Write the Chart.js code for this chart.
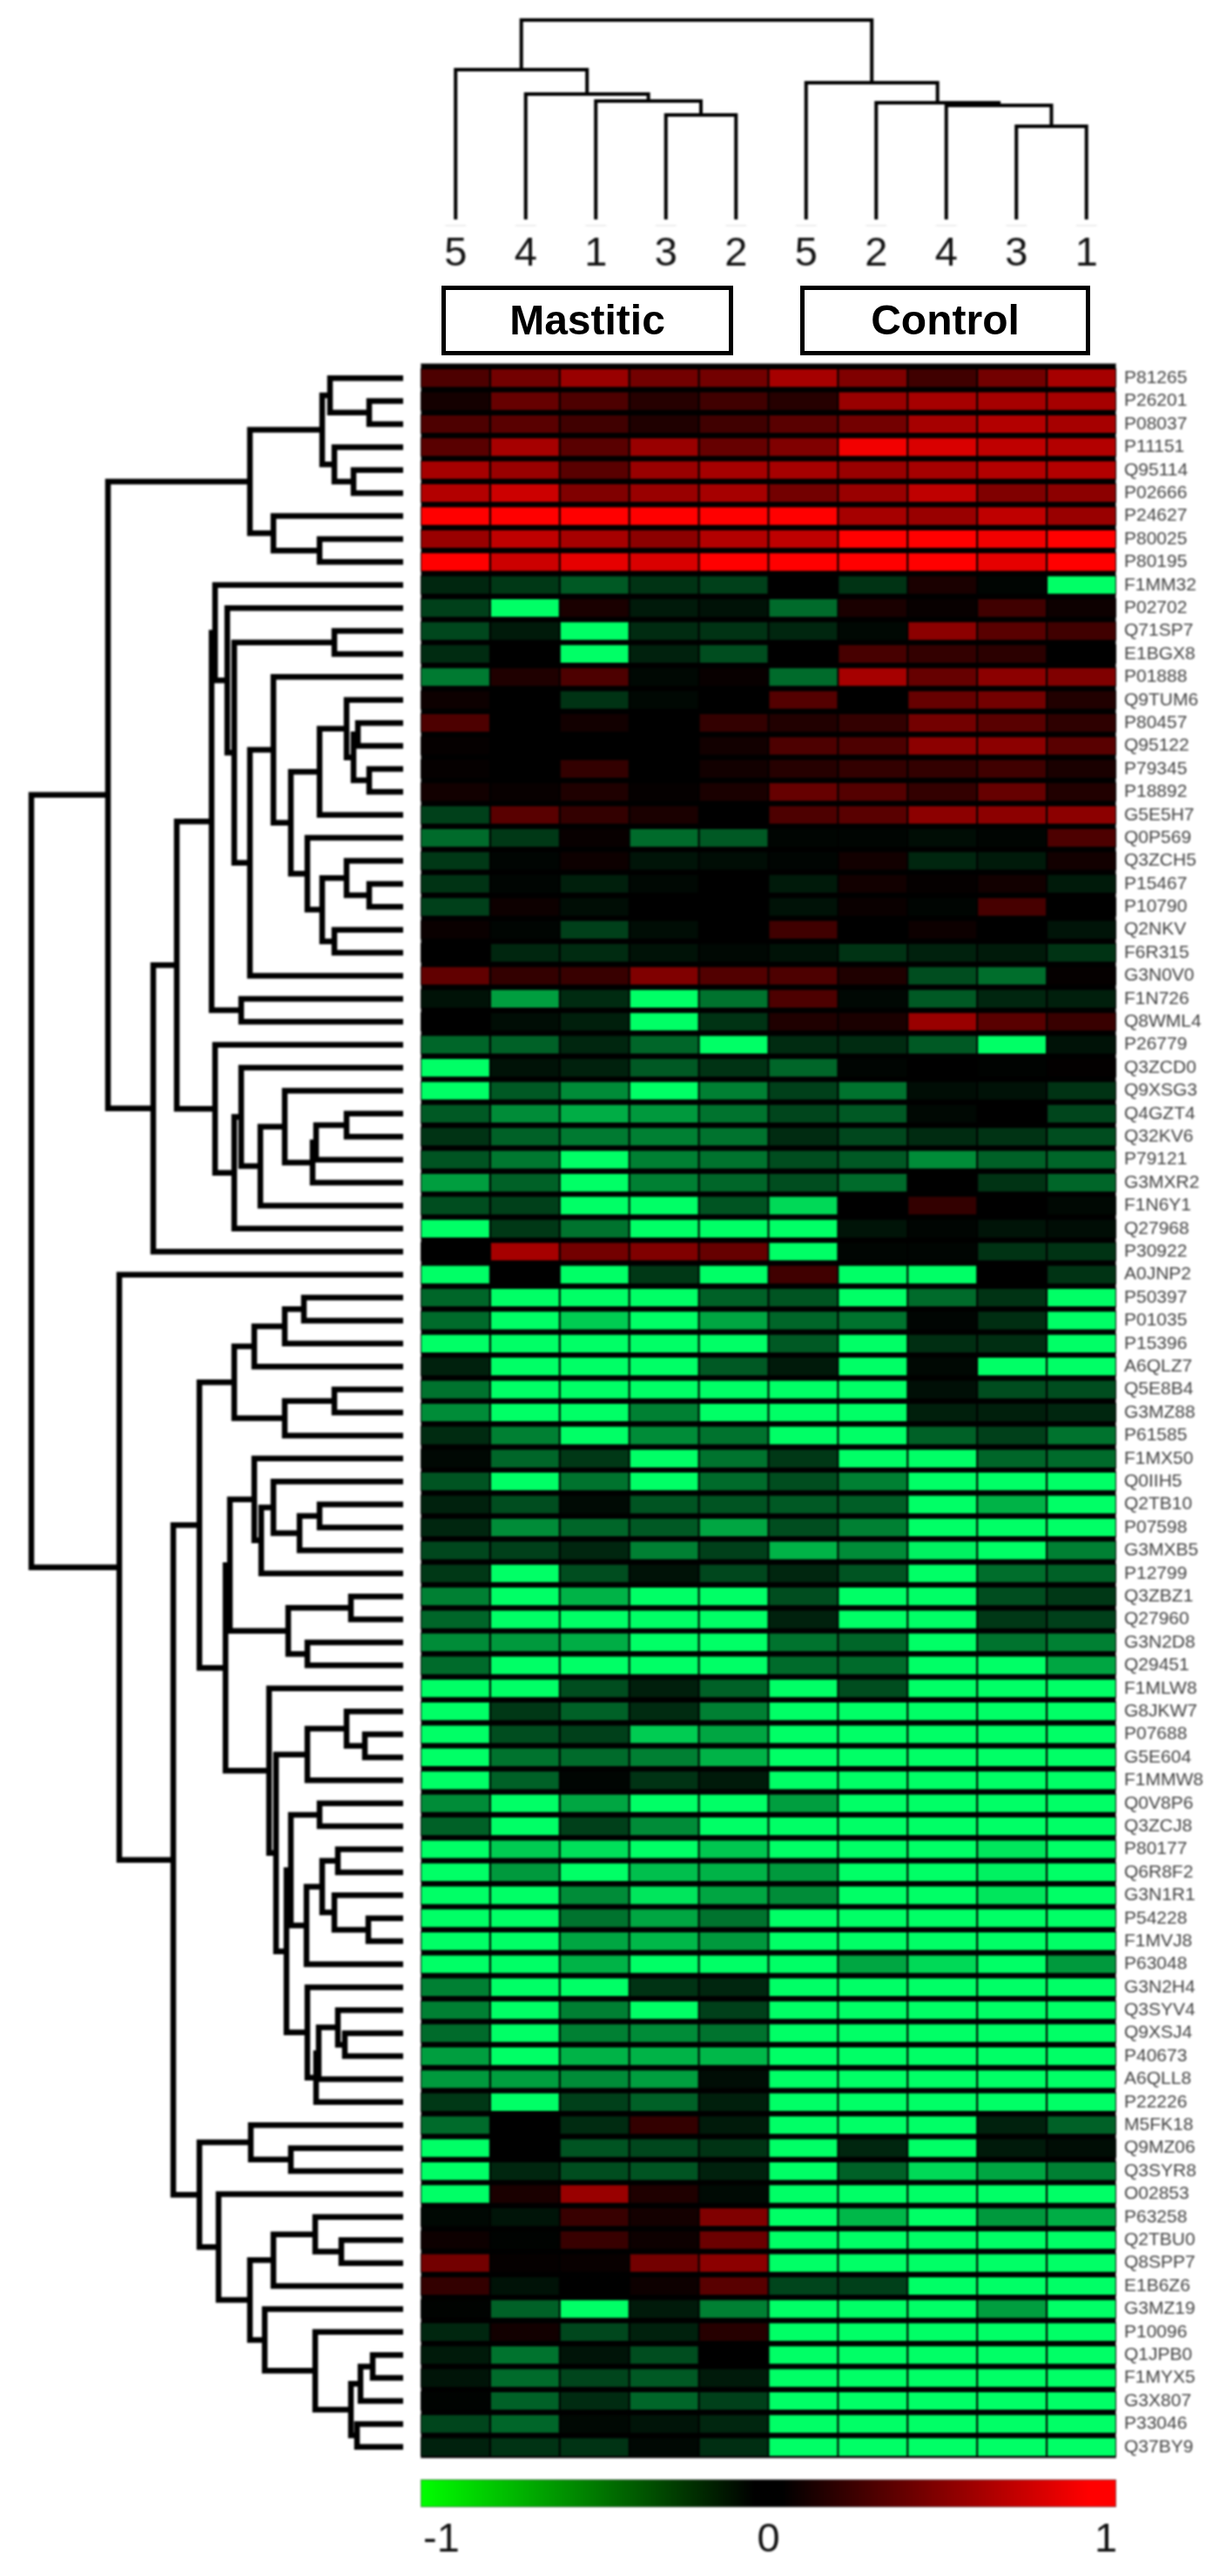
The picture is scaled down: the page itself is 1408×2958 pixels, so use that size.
<!DOCTYPE html>
<html>
<head>
<meta charset="utf-8">
<title>Mastitic vs Control heatmap</title>
<script src="https://cdn.jsdelivr.net/npm/chart.js@4"></script>
<style>
  html, body { margin: 0; padding: 0; background: #fff; }
  #page { position: relative; width: 1408px; height: 2958px; overflow: hidden; font-family: "Liberation Sans", Arial, sans-serif; }
  canvas { position: absolute; display: block; filter: blur(0.8px); }
  #topTree { left: 483px; top: 0; }
  #leftTree { left: 0; top: 421px; }
  #heat { left: 483px; top: 417px; }
  #scaleBar { left: 483px; top: 2847px; }
  .group { position: absolute; top: 328px; height: 70px; border: 5px solid #000; background: #fff; text-align: center;
           font-weight: bold; font-size: 48px; line-height: 70px; color: #000; filter: blur(0.6px); }
</style>
</head>
<body>
<div id="page">
  <canvas id="topTree" width="805" height="320"></canvas>
  <div class="group" style="left:507px;width:325px">Mastitic</div>
  <div class="group" style="left:919px;width:323px">Control</div>
  <canvas id="leftTree" width="463" height="2402"></canvas>
  <canvas id="heat" width="926" height="2408"></canvas>
  <canvas id="scaleBar" width="799" height="96"></canvas>
</div>
<script>
// --- 1. DATA ---
const columnLabels = ['5', '4', '1', '3', '2', '5', '2', '4', '3', '1'];
const columnLeaves = [1, 2, 3, 4, 5, 6, 7, 8, 9, 10];
const scaleTicks = [-0.94, 0, 0.97];
const scaleStops = [[0, '#00ff00'], [0.48, '#000000'], [0.52, '#000000'], [0.96, '#ff0000'], [1, '#ff0000']];

const rowLabels = [
  'P81265','P26201','P08037','P11151','Q95114','P02666','P24627','P80025','P80195','F1MM32',
  'P02702','Q71SP7','E1BGX8','P01888','Q9TUM6','P80457','Q95122','P79345','P18892','G5E5H7',
  'Q0P569','Q3ZCH5','P15467','P10790','Q2NKV','F6R315','G3N0V0','F1N726','Q8WML4','P26779',
  'Q3ZCD0','Q9XSG3','Q4GZT4','Q32KV6','P79121','G3MXR2','F1N6Y1','Q27968','P30922','A0JNP2',
  'P50397','P01035','P15396','A6QLZ7','Q5E8B4','G3MZ88','P61585','F1MX50','Q0IIH5','Q2TB10',
  'P07598','G3MXB5','P12799','Q3ZBZ1','Q27960','G3N2D8','Q29451','F1MLW8','G8JKW7','P07688',
  'G5E604','F1MMW8','Q0V8P6','Q3ZCJ8','P80177','Q6R8F2','G3N1R1','P54228','F1MVJ8','P63048',
  'G3N2H4','Q3SYV4','Q9XSJ4','P40673','A6QLL8','P22226','M5FK18','Q9MZ06','Q3SYR8','O02853',
  'P63258','Q2TBU0','Q8SPP7','E1B6Z6','G3MZ19','P10096','Q1JPB0','F1MYX5','G3X807','P33046','Q37BY9'
];

// one line per protein, columns in picture order
const cellValues = [
  [.3,.45,.6,.45,.45,.65,.5,.25,.45,.65],
  [.08,.4,.3,.15,.25,.15,.6,.65,.65,.65],
  [.3,.35,.25,.12,.25,.35,.45,.65,.7,.65],
  [.35,.65,.35,.6,.4,.5,.95,.85,.75,.7],
  [.65,.6,.35,.6,.65,.65,.6,.65,.7,.7],
  [.7,.8,.5,.6,.65,.45,.6,.75,.5,.55],
  [1,1,1,1,1,1,.65,.6,.75,.6],
  [.6,.75,.65,.55,.7,.75,1,1,.95,1],
  [1,.8,.9,.85,1,1,1,1,.9,1],
  [-.15,-.22,-.35,-.2,-.25,0,-.2,.1,-.02,-1],
  [-.25,-1,.1,-.1,-.07,-.42,.1,.03,.25,.05],
  [-.28,-.1,-1,-.17,-.2,-.15,-.03,.55,.35,.25],
  [-.17,0,-1,-.13,-.3,0,.28,.2,.17,0],
  [-.48,.12,.3,-.03,.03,-.42,.65,.4,.55,.5],
  [.05,0,-.2,-.03,0,.33,0,.4,.45,.13],
  [.3,0,.07,0,.2,.13,.2,.45,.35,.18],
  [.02,0,0,0,.07,.3,.3,.55,.55,.35],
  [.02,0,.2,0,.07,.15,.2,.2,.25,.1],
  [.07,.03,.12,.02,.1,.4,.33,.2,.4,.13],
  [-.25,.35,.2,.1,0,.3,.35,.55,.55,.55],
  [-.42,-.22,.03,-.42,-.35,-.02,-.02,-.05,-.02,.3],
  [-.22,-.02,.05,-.08,-.05,-.02,.07,-.15,-.1,.07],
  [-.2,-.02,-.12,-.03,0,-.1,.07,.02,.07,-.1],
  [-.25,.05,-.05,0,0,-.07,.04,-.02,.28,0],
  [.04,-.02,-.25,-.05,0,.25,0,.05,0,-.08],
  [0,-.15,-.17,-.07,-.03,-.07,-.2,-.13,-.1,-.2],
  [.38,.2,.22,.5,.32,.3,.12,-.3,-.43,.02],
  [-.07,-.62,-.17,-1,-.45,.3,-.03,-.35,-.15,-.12],
  [0,-.05,-.12,-1,-.2,.12,.1,.6,.35,.22],
  [-.4,-.38,-.15,-.4,-1,-.17,-.17,-.35,-1,-.07],
  [-1,-.07,-.13,-.35,-.2,-.4,-.02,0,-.01,.01],
  [-1,-.35,-.55,-1,-.5,-.25,-.45,-.05,-.07,-.2],
  [-.35,-.55,-.68,-.6,-.45,-.27,-.35,-.03,0,-.27],
  [-.2,-.38,-.48,-.5,-.45,-.17,-.28,-.17,-.2,-.3],
  [-.33,-.47,-1,-.5,-.45,-.3,-.35,-.55,-.38,-.4],
  [-.62,-.38,-1,-.5,-.4,-.3,-.42,0,-.2,-.4],
  [-.3,-.25,-1,-1,-.33,-.85,0,.2,0,-.03],
  [-1,-.22,-.45,-1,-1,-1,-.08,-.02,-.08,-.05],
  [0,.65,.45,.5,.4,-1,-.02,-.02,-.2,-.2],
  [-1,0,-1,-.22,-1,.25,-1,-1,0,-.2],
  [-.4,-1,-1,-1,-.38,-.33,-1,-.42,-.2,-1],
  [-.42,-1,-.8,-1,-.65,-.4,-.45,-.02,-.18,-1],
  [-1,-1,-1,-1,-1,-.35,-1,-.18,-.18,-1],
  [-.13,-1,-1,-1,-.35,-.1,-1,-.03,-1,-1],
  [-.45,-1,-1,-1,-1,-1,-1,-.06,-.3,-.3],
  [-.55,-1,-1,-.5,-1,-1,-1,-.12,-.12,-.15],
  [-.17,-.5,-1,-.55,-.45,-1,-1,-.38,-.25,-.45],
  [-.03,-.4,-.22,-1,-.45,-.22,-1,-1,-.4,-.42],
  [-.33,-1,-.45,-1,-.42,-.3,-.5,-1,-1,-1],
  [-.13,-.3,-.04,-.33,-.33,-.35,-.37,-1,-.7,-1],
  [-.15,-.55,-.4,-.35,-.65,-.3,-.5,-1,-1,-1],
  [-.28,-.25,-.15,-.5,-.25,-.7,-.55,-.95,-1,-.5],
  [-.22,-1,-.3,-.07,-.28,-.15,-.33,-1,-.43,-.38],
  [-.5,-1,-.7,-1,-1,-.3,-1,-1,-.3,-.22],
  [-.4,-1,-1,-1,-1,-.13,-1,-1,-.22,-.25],
  [-.55,-.6,-.68,-1,-1,-.45,-.4,-1,-.45,-.5],
  [-.42,-1,-1,-1,-1,-.42,-.42,-1,-1,-.65],
  [-1,-1,-.3,-.12,-.38,-1,-.3,-1,-1,-1],
  [-1,-.22,-.38,-.17,-.5,-1,-1,-1,-1,-1],
  [-1,-.3,-.25,-.8,-.65,-1,-1,-1,-1,-1],
  [-1,-.45,-.42,-.5,-.7,-1,-1,-1,-1,-1],
  [-1,-.38,-.02,-.2,-.1,-1,-1,-1,-1,-1],
  [-.55,-1,-.65,-1,-1,-.62,-1,-1,-1,-1],
  [-.38,-1,-.25,-.55,-1,-1,-1,-1,-1,-1],
  [-1,-.8,-.88,-1,-.78,-1,-1,-1,-.9,-1],
  [-1,-.6,-1,-.75,-.7,-.6,-1,-1,-.95,-1],
  [-1,-1,-.55,-.9,-.65,-.55,-1,-1,-.9,-1],
  [-1,-1,-.45,-.65,-.45,-1,-1,-1,-1,-1],
  [-1,-1,-.65,-.72,-.6,-1,-1,-1,-1,-1],
  [-1,-1,-.7,-1,-1,-1,-.65,-.85,-1,-.6],
  [-.5,-1,-1,-.2,-.15,-1,-1,-1,-1,-1],
  [-.5,-1,-.5,-1,-.25,-1,-1,-1,-1,-1],
  [-.42,-1,-.5,-.55,-.45,-1,-1,-1,-1,-1],
  [-.62,-1,-.7,-.7,-.72,-1,-1,-1,-1,-1],
  [-.6,-.62,-.55,-.62,-.05,-1,-1,-1,-1,-1],
  [-.22,-1,-.25,-.38,-.12,-1,-1,-1,-1,-1],
  [-.42,0,-.17,.2,-.1,-1,-1,-1,-.13,-.38],
  [-1,0,-.33,-.28,-.2,-1,-.15,-1,-.1,-.05],
  [-1,-.15,-.3,-.33,-.13,-1,-.38,-.85,-.65,-.5],
  [-1,.1,.6,.12,-.04,-1,-1,-1,-1,-1],
  [-.03,-.08,.22,.08,.5,-1,-.72,-1,-.6,-.68],
  [.05,-.01,.22,.05,.42,-1,-1,-1,-1,-1],
  [.45,.02,.03,.45,.55,-1,-1,-1,-1,-1],
  [.2,-.07,0,.05,.35,-.27,-.25,-1,-1,-1],
  [-.01,-.38,-1,-.1,-.5,-1,-1,-1,-.62,-1],
  [-.15,.07,-.28,-.13,.15,-1,-1,-1,-1,-1],
  [-.1,-.45,-.08,-.3,0,-1,-1,-1,-1,-1],
  [-.08,-.42,-.27,-.35,-.1,-1,-1,-1,-1,-1],
  [-.01,-.38,-.17,-.4,-.25,-1,-1,-1,-1,-1],
  [-.27,-.4,-.03,-.08,-.15,-1,-1,-1,-1,-1],
  [-.13,-.2,-.2,-.03,-.18,-1,-1,-1,-1,-1]
];

// Dendrograms: [merge height, child, child], a plain number child is a leaf
const mastiticTree = [172, 1, [144, 2, [136, 3, [120, 4, 5]]]];
const controlTree = [157, 6, [134, 7, [131, 8, [107, 9, 10]]]];
const sampleTree = [229, mastiticTree, controlTree];

const highGroup = [176,
  [93, [84, 0, [39, 1, 2]], [79, 3, [57, 4, 5]]],
  [149, 6, [96, 7, 8]]];
const middleCore = [149, 13, [129,
  [96, [65, 14, [57, [52, 15, 16], [39, 17, 18]]], 19],
  [110, 20, [93, [65, 21, [39, 22, 23]], [79, 24, 25]]]]];
const middleGroup = [220,
  [216, 9, [202, 10, [194, [79, 11, 12], [176, middleCore, 26]]]],
  [186, 27, 28]];
const mixedGroup = [216, 29, [194, [186, 30, [164, [136, 31, [104, [100, [65, 32, 33], 34], 35]], 36]], 37]];
const upperBranch = [339, highGroup, [287, [260, middleGroup, mixedGroup], 38]];

const lowA = [194, [171, [136, [114, 40, 41], 42], 43], [136, [79, 44, 45], 46]];
const lowB = [171, 47, [163, [149, 48, [119, [96, 49, 50], 51]], 52]];
const lowC = [132, [60, 53, 54], [110, 55, 56]];
const lowD = [129, [96, 62, 63], [111, [93, [75, 64, 65], [79, 66, [40, 67, 68]]], 69]];
const lowE = [110, 70, [100, [97, [75, 71, [67, 72, 73]], 74], 75]];
const lowF = [154, 57, [146, [110, [65, 58, [44, 59, 60]], 61], [134, lowD, lowE]]];
const lowG = [234, lowA, [204, [199, lowB, lowC], lowF]];
const lowH = [176,
  [149, [101, 80, [71, 81, 82]], 83],
  [159, 84, [101, 85, [60, [49, [35, 86, 87], 88], [53, 89, 90]]]]];
const lowI = [234, [175, 76, [129, 77, 78]], [212, 79, lowH]];
const lowerBranch = [326, 39, [264, lowG, lowI]];
const proteinTree = [427, upperBranch, lowerBranch];

// --- 2. HELPERS ---
function cellColor(v) {
  const a = Math.abs(v);
  return v >= 0 ? `rgb(${Math.round(255 * a)},0,0)` : `rgb(0,${Math.round(255 * a)},${Math.round(102 * a)})`;
}

// walks a tree and pushes the elbow of each merge, returns the {leaf pos, height} of the node
function walkTree(node, out) {
  if (typeof node === 'number') return { pos: node, h: 0 };
  const a = walkTree(node[1], out);
  const b = walkTree(node[2], out);
  out.push({ h: a.h, pos: a.pos }, { h: node[0], pos: a.pos }, { h: node[0], pos: b.pos }, { h: b.h, pos: b.pos }, { h: NaN, pos: NaN });
  return { pos: (a.pos + b.pos) / 2, h: node[0] };
}

// the labels must not push the plot area in, it has to sit exactly on the cells
function noLabelInset(s) {
  s.paddingLeft = s.paddingRight = s.paddingTop = s.paddingBottom = 0;
}

const treeStyle = { showLine: true, pointRadius: 0, borderColor: '#000', tension: 0, clip: false, borderJoinStyle: 'miter', spanGaps: false };
const bareChart = { responsive: false, animation: false, layout: { padding: 0, autoPadding: false }, plugins: { legend: { display: false }, tooltip: { enabled: false } } };

// --- 3. TOP DENDROGRAM ---
const samplePath = [];
walkTree(sampleTree, samplePath);
new Chart(document.getElementById('topTree'), {
  type: 'scatter',
  data: { datasets: [
    { ...treeStyle, borderWidth: 4, data: samplePath.map(p => ({ x: p.pos, y: p.h })) },
    { showLine: false, clip: false, pointStyle: 'line', pointRadius: 12, pointBorderWidth: 1, pointBorderColor: '#ddd', data: columnLeaves.map(x => ({ x: x, y: -7 })) }
  ] },
  options: { ...bareChart,
    scales: {
      x: { type: 'linear', min: 0.5, max: 10.5, grid: { display: false, drawTicks: false }, border: { display: false },
        afterBuildTicks: s => { s.ticks = columnLeaves.map(v => ({ value: v })); },
        afterFit: s => { s.height = 68; noLabelInset(s); },
        ticks: { autoSkip: false, maxRotation: 0, padding: 12, color: '#111', font: { family: 'Liberation Sans', size: 47 }, callback: (v, i) => columnLabels[i] } },
      y: { type: 'linear', min: 0, max: 252, display: false }
    } }
});

// --- 4. LEFT DENDROGRAM ---
const proteinPath = [];
walkTree(proteinTree, proteinPath);
new Chart(document.getElementById('leftTree'), {
  type: 'scatter',
  data: { datasets: [{ ...treeStyle, borderWidth: 6.5, data: proteinPath.map(p => ({ x: p.h, y: p.pos })) }] },
  options: { ...bareChart,
    scales: {
      x: { type: 'linear', min: 0, max: 463, reverse: true, display: false },
      y: { type: 'linear', min: -0.5, max: rowLabels.length - 0.5, reverse: true, display: false }
    } }
});

// --- 5. HEATMAP ---
const heatBackdrop = {
  id: 'heatBackdrop',
  beforeDatasetsDraw(chart) {
    const a = chart.chartArea, c = chart.ctx;
    c.save();
    c.fillStyle = '#000';
    c.strokeStyle = '#777';
    c.lineWidth = 1;
    c.fillRect(a.left, a.top - 4, a.right - a.left, a.bottom - a.top + 4);
    c.strokeRect(a.left + 0.5, a.top - 3.5, a.right - a.left - 1, a.bottom - a.top + 3);
    c.restore();
  }
};
new Chart(document.getElementById('heat'), {
  type: 'bar',
  data: {
    labels: rowLabels,
    datasets: columnLabels.map((name, c) => ({
      label: name,
      grouped: false,
      data: rowLabels.map(() => [c, c + 1]),
      backgroundColor: ctx => cellColor(cellValues[ctx.dataIndex][c]),
      borderColor: '#000',
      borderWidth: 1,
      borderSkipped: false,
      barPercentage: 0.84,
      categoryPercentage: 1
    }))
  },
  options: { ...bareChart,
    indexAxis: 'y',
    layout: { padding: { top: 4, bottom: 2 }, autoPadding: false },
    scales: {
      x: { type: 'linear', min: 0, max: 10, display: false },
      y: { type: 'category', position: 'right', grid: { display: false, drawTicks: false }, border: { display: false },
        afterFit: s => { s.width = 127; noLabelInset(s); },
        ticks: { autoSkip: false, padding: 9, color: '#444', font: { family: 'Liberation Sans', size: 21 } } }
    } },
  plugins: [heatBackdrop]
});

// --- 6. COLOUR SCALE ---
new Chart(document.getElementById('scaleBar'), {
  type: 'bar',
  data: {
    labels: [''],
    datasets: [{
      data: [[-1, 1]],
      borderColor: '#666',
      borderWidth: 1,
      borderSkipped: false,
      barPercentage: 1,
      categoryPercentage: 1,
      backgroundColor: ctx => {
        const a = ctx.chart.chartArea;
        if (!a) return '#000';
        const g = ctx.chart.ctx.createLinearGradient(a.left, 0, a.right, 0);
        scaleStops.forEach(s => g.addColorStop(s[0], s[1]));
        return g;
      }
    }]
  },
  options: { ...bareChart,
    indexAxis: 'y',
    scales: {
      x: { type: 'linear', min: -1, max: 1, grid: { display: false, drawTicks: false }, border: { display: false },
        afterBuildTicks: s => { s.ticks = scaleTicks.map(v => ({ value: v })); },
        afterFit: s => { s.height = 64; noLabelInset(s); },
        ticks: { autoSkip: false, maxRotation: 0, padding: 10, color: '#111', font: { family: 'Liberation Sans', size: 47 }, callback: v => String(Math.round(v)) } },
      y: { type: 'category', display: false }
    } }
});
</script>
</body>
</html>
